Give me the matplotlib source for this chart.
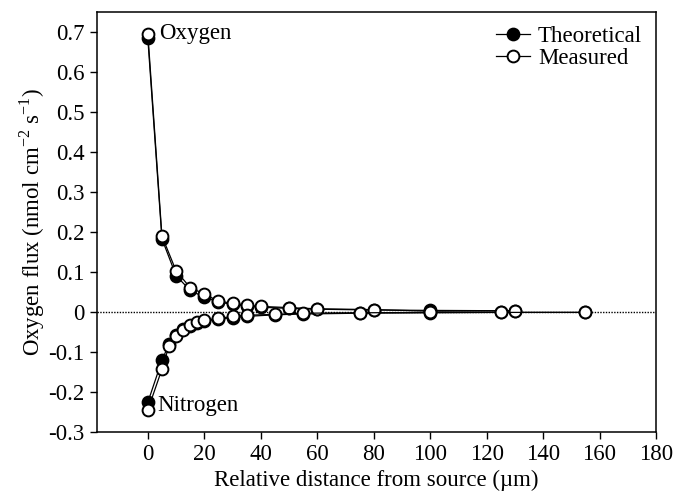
import matplotlib
matplotlib.use("Agg")
import matplotlib.pyplot as plt
from matplotlib.lines import Line2D

plt.rcParams["font.family"] = ["Liberation Serif", "DejaVu Serif"]
plt.rcParams["mathtext.fontset"] = "custom"
plt.rcParams["mathtext.rm"] = "Liberation Serif"
plt.rcParams["axes.unicode_minus"] = False

# oxygen (positive flux) and nitrogen (negative flux), distance in um
oxy_x = [0, 5, 10, 15, 20, 25, 30, 35, 40, 50, 60, 80, 100, 130]
oxy_theo = [0.684, 0.183, 0.091, 0.054, 0.037, 0.025, 0.019, 0.015, 0.012, 0.009, 0.007, 0.005, 0.004, 0.003]
oxy_meas = [0.696, 0.190, 0.103, 0.061, 0.045, 0.027, 0.022, 0.017, 0.014, 0.011, 0.008, 0.006, 0.002, 0.003]

nit_x = [0, 5, 7.5, 10, 12.5, 15, 17.5, 20, 25, 30, 35, 45, 55, 75, 100, 125, 155]
nit_theo = [-0.226, -0.121, -0.080, -0.058, -0.043, -0.034, -0.028, -0.023, -0.018, -0.014, -0.011,
            -0.007, -0.005, -0.003, -0.002, -0.001, -0.001]
nit_meas = [-0.245, -0.143, -0.085, -0.060, -0.045, -0.032, -0.026, -0.021, -0.016, -0.011, -0.008,
            -0.006, -0.003, -0.002, -0.001, -0.001, -0.001]

yticks = [-0.3, -0.2, -0.1, 0, 0.1, 0.2, 0.3, 0.4, 0.5, 0.6, 0.7]
ytick_labels = ["-0.3", "-0.2", "-0.1", "0", "0.1", "0.2", "0.3", "0.4", "0.5", "0.6", "0.7"]
xticks = [0, 20, 40, 60, 80, 100, 120, 140, 160, 180]

FS = 16.5

fig = plt.figure(figsize=(6.76, 4.92), dpi=100)
ax = fig.add_axes([97 / 676, 60 / 492, 559 / 676, 420 / 492])

ax.axhline(0, color="black", lw=1.0, ls=(0, (1, 1)), zorder=1)

mk = dict(marker="o", ms=8.5, mew=1.4, mec="black", color="black", lw=0.9)
for x, th, me in [(oxy_x, oxy_theo, oxy_meas), (nit_x, nit_theo, nit_meas)]:
    ax.plot(x, th, mfc="black", zorder=2, **mk)
    ax.plot(x, me, mfc="white", zorder=3, **mk)

ax.text(4.0, oxy_meas[0], "Oxygen", fontsize=FS, va="center", ha="left")
ax.text(3.5, -0.235, "Nitrogen", fontsize=FS, va="center", ha="left")

ax.set_xlim(-18, 180)
ax.set_ylim(-0.3, 0.75)
ax.set_xticks(xticks)
ax.set_yticks(yticks)
ax.set_yticklabels(ytick_labels)
ax.tick_params(direction="out", length=5, width=1, labelsize=FS, top=False, right=False, pad=4)
for s in ax.spines.values():
    s.set_linewidth(1.1)

ax.set_xlabel("Relative distance from source (\u00b5m)", fontsize=FS, labelpad=3)
ax.set_ylabel(r"Oxygen flux (nmol cm$^{\mathregular{-2}}$ s$^{\mathregular{-1}}$)", fontsize=FS, labelpad=1)

handles = [Line2D([], [], mfc="black", **mk), Line2D([], [], mfc="white", **mk)]
ax.legend(handles, ["Theoretical", "Measured"], loc="upper right", bbox_to_anchor=(1.0, 1.0),
          frameon=False, fontsize=FS, handlelength=1.5, handletextpad=0.35, labelspacing=0.05,
          borderaxespad=0.2)

fig.savefig("out.png", dpi=100)
